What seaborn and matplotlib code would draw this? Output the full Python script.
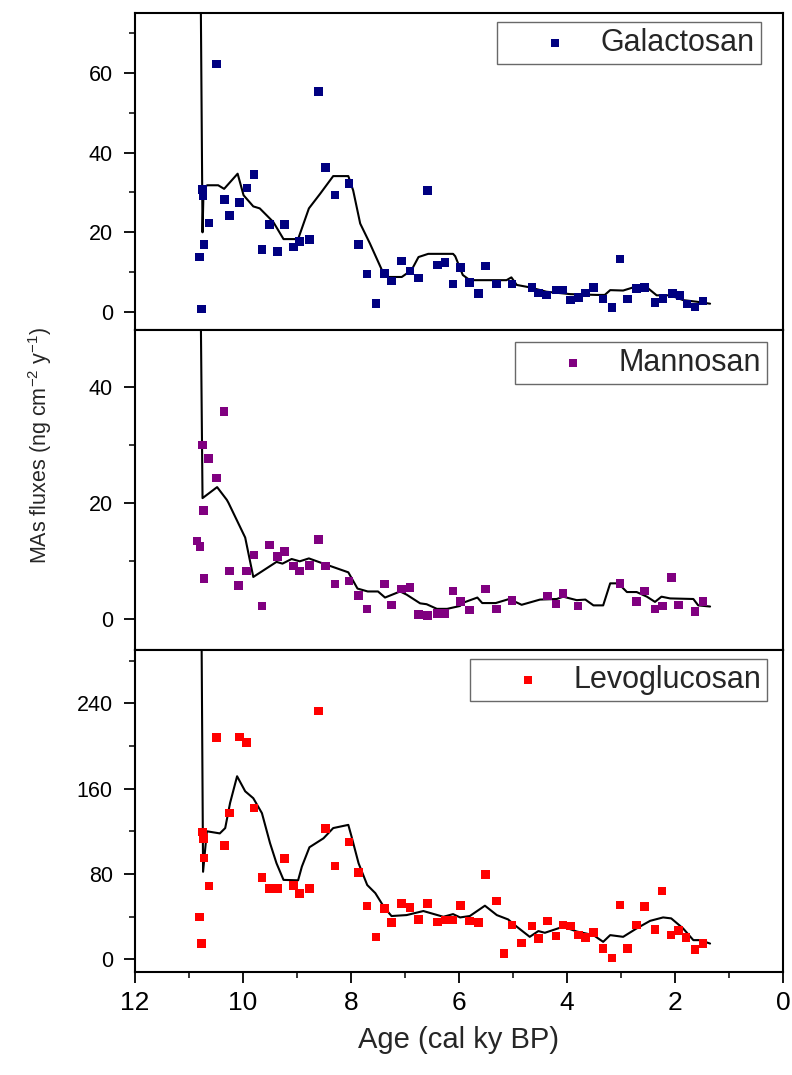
import numpy as np
import pandas as pd
import matplotlib
matplotlib.use("Agg")
import matplotlib.pyplot as plt
from matplotlib.ticker import MultipleLocator
from matplotlib import font_manager
import seaborn as sns

# ---------------- data ----------------
gal_age = [10.81, 10.77, 10.75, 10.74, 10.72, 10.63, 10.49, 10.34, 10.25, 10.07, 9.93, 9.80,
           9.65, 9.51, 9.36, 9.23, 9.07, 8.95, 8.77, 8.60, 8.47, 8.30, 8.04, 7.86, 7.70, 7.54,
           7.38, 7.25, 7.06, 6.91, 6.75, 6.58, 6.40, 6.26, 6.11, 5.97, 5.81, 5.64, 5.51, 5.31,
           5.02, 4.65, 4.53, 4.38, 4.20, 4.07, 3.93, 3.79, 3.66, 3.51, 3.33, 3.17, 3.02, 2.88,
           2.71, 2.56, 2.37, 2.22, 2.05, 1.91, 1.78, 1.63, 1.48]
gal_val = [13.8, 0.75, 30.7, 29.3, 16.9, 22.3, 62.2, 28.3, 24.2, 27.5, 31.1, 34.5,
           15.7, 22.0, 15.2, 22.0, 16.3, 17.7, 18.2, 55.3, 36.3, 29.4, 32.3, 16.9, 9.5, 2.2,
           9.7, 7.8, 12.8, 10.3, 8.5, 30.5, 11.8, 12.5, 7.0, 11.2, 7.4, 4.7, 11.5, 7.0,
           7.0, 6.2, 4.8, 4.3, 5.5, 5.5, 3.0, 3.6, 4.8, 6.2, 3.3, 1.2, 13.3, 3.3,
           5.9, 6.2, 2.4, 3.4, 4.7, 4.1, 2.0, 1.3, 2.8]
gal_line_age = [10.80, 10.75, 10.73, 10.66, 10.46, 10.35, 10.10, 9.99, 9.81, 9.69, 9.44, 9.25,
                8.98, 8.78, 8.57, 8.33, 8.05, 7.96, 7.83, 7.65, 7.40, 7.31, 7.06, 6.88, 6.75,
                6.57, 6.11, 6.07, 5.93, 5.80, 5.12, 5.03, 4.93, 4.69, 4.38, 3.94, 3.45, 3.30,
                3.20, 2.96, 2.77, 2.52, 2.34, 2.09, 1.85, 1.60, 1.35]
gal_line_val = [110.0, 20.0, 31.3, 31.8, 31.8, 30.9, 34.7, 29.3, 26.5, 26.0, 22.6, 18.3,
                18.3, 26.0, 29.7, 34.1, 34.1, 30.5, 22.2, 17.2, 9.7, 8.8, 8.8, 10.5, 13.8,
                14.6, 14.6, 14.0, 9.3, 8.0, 8.0, 8.7, 6.8, 6.2, 5.1, 4.5, 4.3, 4.3,
                5.5, 5.4, 6.2, 6.2, 4.2, 4.2, 3.0, 2.6, 2.1]

man_age = [10.85, 10.80, 10.75, 10.73, 10.72, 10.64, 10.49, 10.35, 10.25, 10.08, 9.94, 9.80,
           9.65, 9.51, 9.36, 9.23, 9.07, 8.95, 8.77, 8.60, 8.47, 8.30, 8.04, 7.86, 7.70, 7.38,
           7.25, 7.06, 6.91, 6.75, 6.58, 6.40, 6.26, 6.11, 5.97, 5.81, 5.51, 5.31, 5.02, 4.36,
           4.20, 4.07, 3.80, 3.02, 2.71, 2.56, 2.37, 2.23, 2.06, 1.93, 1.63, 1.48]
man_val = [13.5, 12.6, 30.1, 18.8, 7.0, 27.7, 24.4, 35.8, 8.3, 5.8, 8.3, 11.1,
           2.3, 12.8, 10.8, 11.7, 9.2, 8.3, 9.3, 13.8, 9.2, 6.1, 6.6, 4.1, 1.8, 6.1,
           2.5, 5.2, 5.45, 0.8, 0.65, 1.0, 1.0, 4.9, 3.1, 1.6, 5.2, 1.8, 3.25, 4.0,
           2.6, 4.4, 2.3, 6.2, 3.1, 4.9, 1.8, 2.3, 7.2, 2.5, 1.3, 3.1]
man_line_age = [10.80, 10.75, 10.48, 10.30, 10.27, 9.96, 9.81, 9.38, 9.27, 9.10, 8.95, 8.78,
                8.51, 8.05, 7.88, 7.69, 7.50, 7.37, 7.09, 6.97, 6.72, 6.60, 6.41, 6.22, 5.98,
                5.94, 5.66, 5.57, 5.32, 5.07, 4.84, 4.50, 4.19, 4.07, 3.82, 3.66, 3.51, 3.33,
                3.20, 3.05, 2.89, 2.71, 2.52, 2.37, 2.25, 2.09, 1.66, 1.57, 1.35]
man_line_val = [70.0, 20.9, 22.8, 20.6, 20.1, 14.1, 7.3, 9.9, 9.6, 10.4, 10.0, 10.5,
                9.6, 8.1, 5.3, 4.8, 4.8, 3.75, 4.8, 4.25, 2.75, 2.6, 1.8, 1.8, 2.3,
                2.8, 3.75, 2.8, 2.8, 3.5, 2.5, 3.4, 3.5, 3.9, 3.3, 3.4, 2.4, 2.4,
                6.2, 6.2, 4.7, 4.7, 3.9, 3.0, 3.9, 3.6, 3.5, 2.4, 2.2]

lev_age = [10.81, 10.77, 10.75, 10.73, 10.72, 10.63, 10.49, 10.34, 10.25, 10.07, 9.94, 9.80,
           9.65, 9.51, 9.36, 9.23, 9.07, 8.95, 8.77, 8.60, 8.47, 8.30, 8.04, 7.86, 7.70, 7.54,
           7.38, 7.25, 7.06, 6.91, 6.75, 6.58, 6.40, 6.26, 6.11, 5.97, 5.81, 5.64, 5.51, 5.31,
           5.17, 5.02, 4.84, 4.65, 4.53, 4.36, 4.20, 4.07, 3.93, 3.79, 3.66, 3.51, 3.33, 3.17,
           3.02, 2.88, 2.71, 2.56, 2.37, 2.24, 2.07, 1.93, 1.80, 1.63, 1.48]
lev_val = [39.8, 14.7, 119.2, 113.0, 95.0, 68.7, 207.7, 106.4, 137.1, 208.3, 203.0, 141.8,
           76.9, 66.5, 66.5, 94.4, 69.0, 61.8, 66.5, 232.8, 122.4, 87.5, 109.8, 81.2, 49.9, 21.0,
           47.7, 34.2, 52.4, 48.6, 37.3, 52.4, 35.1, 36.7, 36.7, 50.6, 36.0, 34.2, 79.7, 54.6,
           5.3, 32.0, 15.4, 31.0, 19.5, 35.8, 21.6, 32.0, 31.0, 22.6, 20.4, 24.8, 10.0, 1.3,
           50.8, 10.0, 32.0, 49.2, 27.9, 64.0, 22.6, 26.7, 20.4, 9.1, 14.7]
lev_line_age = [10.78, 10.74, 10.67, 10.43, 10.33, 10.24, 10.11, 9.96, 9.81, 9.65, 9.50, 9.38,
                9.25, 8.98, 8.91, 8.77, 8.51, 8.33, 8.05, 7.99, 7.86, 7.70, 7.55, 7.39, 7.25,
                6.97, 6.66, 6.29, 6.11, 5.98, 5.80, 5.52, 5.30, 5.09, 4.93, 4.69, 4.53, 4.41,
                4.07, 3.82, 3.51, 3.33, 3.20, 2.96, 2.71, 2.46, 2.22, 2.07, 1.85, 1.66, 1.54, 1.35]
lev_line_val = [400.0, 82.0, 120.0, 118.0, 123.0, 146.5, 171.6, 157.5, 151.0, 137.0, 108.9, 90.0,
                74.4, 74.0, 86.9, 105.0, 113.4, 123.0, 126.0, 115.0, 90.0, 69.6, 62.0, 49.0, 40.5,
                41.4, 45.2, 39.8, 42.3, 39.2, 40.5, 50.2, 41.4, 37.3, 30.5, 21.0, 26.4, 24.8,
                30.5, 26.0, 22.6, 16.3, 22.6, 21.0, 28.9, 36.0, 39.2, 38.3, 28.9, 17.9, 17.9, 14.7]

names = ["Galactosan", "Mannosan", "Levoglucosan"]
colors = ["#000080", "#800080", "#FF0000"]
ylims = [(-4.5, 75), (-5.3, 49.9), (-12, 290)]
minor_steps = [10, 10, 40]
yticks = [[0, 20, 40, 60], [0, 20, 40], [0, 80, 160, 240]]
xticks = [12, 10, 8, 6, 4, 2, 0]
legend_anchor = [(0.966, 0.972), (0.976, 0.964), (0.976, 0.972)]

scatter_sets = [(gal_age, gal_val), (man_age, man_val), (lev_age, lev_val)]
line_sets = [(gal_line_age, gal_line_val), (man_line_age, man_line_val), (lev_line_age, lev_line_val)]

# ---------------- style ----------------
sns.set_theme(style="white")
plt.rcParams["font.family"] = ["Liberation Sans", "DejaVu Sans"]
plt.rcParams["mathtext.default"] = "regular"

installed = {f.name for f in font_manager.fontManager.ttflist}
if "Liberation Sans Narrow" in installed:
    ylab_family, ylab_size = ["Liberation Sans Narrow", "DejaVu Sans"], 18
else:
    ylab_family, ylab_size = ["Liberation Sans", "DejaVu Sans"], 15.5

fig = plt.figure(figsize=(7.92, 10.75), dpi=100)
gs = fig.add_gridspec(3, 1, left=0.1705, right=0.9886, top=0.9879, bottom=0.0958,
                      hspace=0, height_ratios=[317, 320, 322])
axes = [fig.add_subplot(gs[i]) for i in range(3)]

for i, ax in enumerate(axes):
    a, v = scatter_sets[i]
    df = pd.DataFrame({"age": a, "val": v})
    la, lv = line_sets[i]
    dl = pd.DataFrame({"age": la, "val": lv})
    sns.lineplot(data=dl, x="age", y="val", ax=ax, color="black", linewidth=1.5,
                 sort=False, estimator=None, legend=False, zorder=2)
    sns.scatterplot(data=df, x="age", y="val", ax=ax, marker="s", s=38, color=colors[i],
                    edgecolor="none", linewidth=0, label=names[i], zorder=3)
    ax.set_xlim(12, 0)
    ax.set_ylim(*ylims[i])
    ax.set_yticks(yticks[i])
    ax.yaxis.set_minor_locator(MultipleLocator(minor_steps[i]))
    ax.set_xticks(xticks)
    ax.xaxis.set_minor_locator(MultipleLocator(1))
    ax.set_xlabel("")
    ax.set_ylabel("")
    for sp in ax.spines.values():
        sp.set_color("black")
        sp.set_linewidth(1.5)
    ax.tick_params(axis="y", which="major", direction="out", length=8, width=1.3,
                   left=True, labelsize=15.5, pad=8, colors="black")
    ax.tick_params(axis="y", which="minor", direction="out", length=4.5, width=1.3, left=True)
    if i < 2:
        ax.tick_params(axis="x", which="both", bottom=False, labelbottom=False)
    else:
        ax.tick_params(axis="x", which="major", direction="out", length=8, width=1.3,
                       bottom=True, labelsize=19, pad=6, colors="black")
        ax.tick_params(axis="x", which="minor", direction="out", length=4.5, width=1.3,
                       bottom=True)
    leg = ax.legend(loc="upper right", bbox_to_anchor=legend_anchor[i], fontsize=22,
                    frameon=True, fancybox=False, edgecolor="#444444", borderpad=0.2,
                    handlelength=3.4, handletextpad=-0.2, borderaxespad=0.0,
                    markerscale=0.95)
    leg.get_frame().set_linewidth(1.0)

fig.text(0.05, 0.586, r"MAs fluxes (ng cm$^{-2}$ y$^{-1}$)", rotation=90,
         ha="center", va="center", fontsize=ylab_size, family=ylab_family)
fig.text(0.5795, 0.0326, "Age (cal ky BP)", ha="center", va="center", fontsize=21)

fig.savefig("out.png", dpi=100)
